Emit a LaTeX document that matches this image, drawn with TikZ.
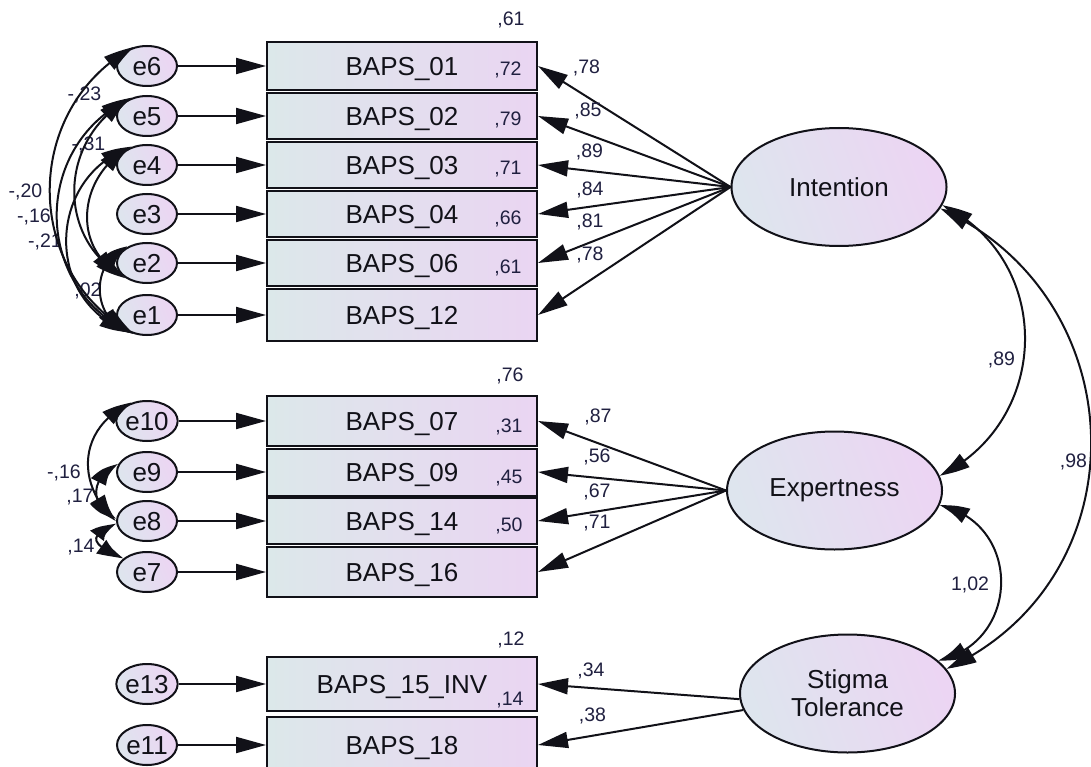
\documentclass[tikz,border=0pt]{standalone}
\usepackage{fontspec}
\setmainfont{Liberation Sans}
\usetikzlibrary{arrows.meta,bending,shapes.geometric}

\definecolor{obsleft}{RGB}{220,232,234}
\definecolor{obsright}{RGB}{234,213,242}
\definecolor{latleft}{RGB}{222,229,238}
\definecolor{latright}{RGB}{236,213,243}
\definecolor{ink}{RGB}{17,17,24}
\definecolor{estink}{RGB}{32,32,64}

\tikzset{
  big/.style={font=\fontsize{26}{28}\selectfont},
  obs/.style={rectangle, draw=ink, line width=2pt, minimum width=270pt, inner sep=0pt,
    left color=obsleft, right color=obsright, big, text=ink, text height=18.6pt, text depth=0pt},
  err/.style={ellipse, draw=ink, line width=2pt, minimum width=60pt, minimum height=40pt,
    inner sep=0pt, left color=latleft, right color=latright, shading angle=110, big, text=ink,
    text height=18.6pt, text depth=0pt},
  lat/.style={ellipse, draw=ink, line width=2pt, minimum width=215pt, minimum height=118pt,
    inner sep=0pt, left color=latleft, right color=latright, shading angle=110, big, text=ink,
    align=center},
  est/.style={font=\fontsize{19.5}{22}\selectfont, text=estink, inner sep=0pt},
  load/.style={line width=2pt, draw=ink, -{Triangle[length=30pt,width=16pt]}},
  cov/.style={line width=2pt, draw=ink,
    {Triangle[length=30pt,width=16pt,bend]}-{Triangle[length=30pt,width=16pt,bend]}},
}

\begin{document}
\begin{tikzpicture}[x=1pt,y=-1pt]
\useasboundingbox (0,0) rectangle (1091,767);
\fill[white] (0,0) rectangle (1091,767);
\clip (0,0) rectangle (1091,767);

% ---------- observed indicators ----------
\node[obs, minimum height=48pt] (b01) at (402,66)  {BAPS\_01};
\node[obs, minimum height=46pt] (b02) at (402,116) {BAPS\_02};
\node[obs, minimum height=46pt] (b03) at (402,165) {BAPS\_03};
\node[obs, minimum height=46pt] (b04) at (402,214) {BAPS\_04};
\node[obs, minimum height=46pt] (b06) at (402,263) {BAPS\_06};
\node[obs, minimum height=52pt] (b12) at (402,315) {BAPS\_12};

\node[obs, minimum height=50pt] (b07) at (402,421) {BAPS\_07};
\node[obs, minimum height=47pt] (b09) at (402,472) {BAPS\_09};
\node[obs, minimum height=46pt] (b14) at (402,521) {BAPS\_14};
\node[obs, minimum height=50pt] (b16) at (402,572) {BAPS\_16};

\node[obs, minimum height=54pt] (b15) at (402,684) {BAPS\_15\_INV};
\node[obs, minimum height=56pt] (b18) at (402,745) {BAPS\_18};

% ---------- error terms ----------
\node[err] (e6) at (147,66)  {e6};
\node[err] (e5) at (147,116) {e5};
\node[err] (e4) at (147,165) {e4};
\node[err] (e3) at (147,214) {e3};
\node[err] (e2) at (147,263) {e2};
\node[err] (e1) at (147,315) {e1};

\node[err] (e10) at (147,421) {e10};
\node[err] (e9)  at (147,472) {e9};
\node[err] (e8)  at (147,521) {e8};
\node[err] (e7)  at (147,572) {e7};

\node[err] (e13) at (147,684) {e13};
\node[err] (e11) at (147,745) {e11};

% ---------- latent factors ----------
\node[lat] (int) at (839,187)     {Intention};
\node[lat] (exp) at (834.5,490.5) {Expertness};
\node[lat] (stg) at (847.5,693.5) {Stigma\\Tolerance};

% ---------- error paths ----------
\foreach \e/\b in {e6/b01,e5/b02,e4/b03,e3/b04,e2/b06,e1/b12,
                   e10/b07,e9/b09,e8/b14,e7/b16,e13/b15,e11/b18}
  \draw[load] (\e) -- (\b);

% ---------- factor loadings ----------
\foreach \b in {b01,b02,b03,b04,b06,b12}
  \draw[load] (int.west) -- (\b.east);
\foreach \b in {b07,b09,b14,b16}
  \draw[load] (exp.west) -- (\b.east);
\draw[load] (stg.183) -- (b15.east);
\draw[load] (stg.189) -- (b18.east);

% ---------- estimates ----------
\node[est] at (511,19.5) {,61};
\node[est] at (508,70)   {,72};
\node[est] at (508,120)  {,79};
\node[est] at (508,169.5){,71};
\node[est] at (508,218.5){,66};
\node[est] at (508,268)  {,61};

\node[est] at (586.5,67.5) {,78};
\node[est] at (588,110.5)  {,85};
\node[est] at (589.5,151.5){,89};
\node[est] at (590,189.5)  {,84};
\node[est] at (590,221.5)  {,81};
\node[est] at (590,255)    {,78};

\node[est] at (510,375.5) {,76};
\node[est] at (509,426.5) {,31};
\node[est] at (509,478.5) {,45};
\node[est] at (509,526)   {,50};

\node[est] at (598,417) {,87};
\node[est] at (597,457) {,56};
\node[est] at (597,492) {,67};
\node[est] at (597,523) {,71};

\node[est] at (511,640) {,12};
\node[est] at (510,700) {,14};
\node[est] at (591,670.5) {,34};
\node[est] at (592.5,715.5) {,38};

\node[est] at (84.5,95)  {-,23};
\node[est] at (88.5,145) {-,31};
\node[est] at (25.5,191.5) {-,20};
\node[est] at (34,216.5) {-,16};
\node[est] at (45,241.5) {-,21};
\node[est] at (88,291)   {,02};

\node[est] at (64,473) {-,16};
\node[est] at (80,497) {,17};
\node[est] at (81,547) {,14};

\node[est] at (1001.5,360) {,89};
\node[est] at (1073.5,462) {,98};
\node[est] at (970,585)    {1,02};

% ---------- error covariances ----------
\draw[cov] (e6.125) .. controls +(-112,61) and +(-112,-61) .. (e1.235);
\draw[cov] (e5.130) .. controls +(-100,46) and +(-100,-46) .. (e1.230);
\draw[cov] (e4.130) .. controls +(-86,30) and +(-86,-30) .. (e1.225);
\draw[cov] (e5.135) .. controls +(-71,39) and +(-71,-39) .. (e2.215);
\draw[cov] (e4.135) .. controls +(-51,27) and +(-51,-27) .. (e2.205);
\draw[cov] (e2.140) .. controls +(-37,14) and +(-37,-14) .. (e1.220);

\draw[cov] (e10.130) .. controls +(-55,25) and +(-40,-35) .. (e8.180);
\draw[cov] (e9.165) .. controls +(-28,12) and +(-28,-12) .. (e8.175);
\draw[cov] (e8.185) .. controls +(-28,12) and +(-35,-15) .. (e7.150);

% ---------- factor covariances ----------
\draw[cov] (int.-10) .. controls +(112,55) and +(112,-55) .. (exp.8);
\draw[cov] (int.-12) .. controls +(197,90) and +(197,-90) .. (stg.14);
\draw[cov] (exp.-8) .. controls +(83,18) and +(83,-18) .. (stg.20);
\end{tikzpicture}
\end{document}
